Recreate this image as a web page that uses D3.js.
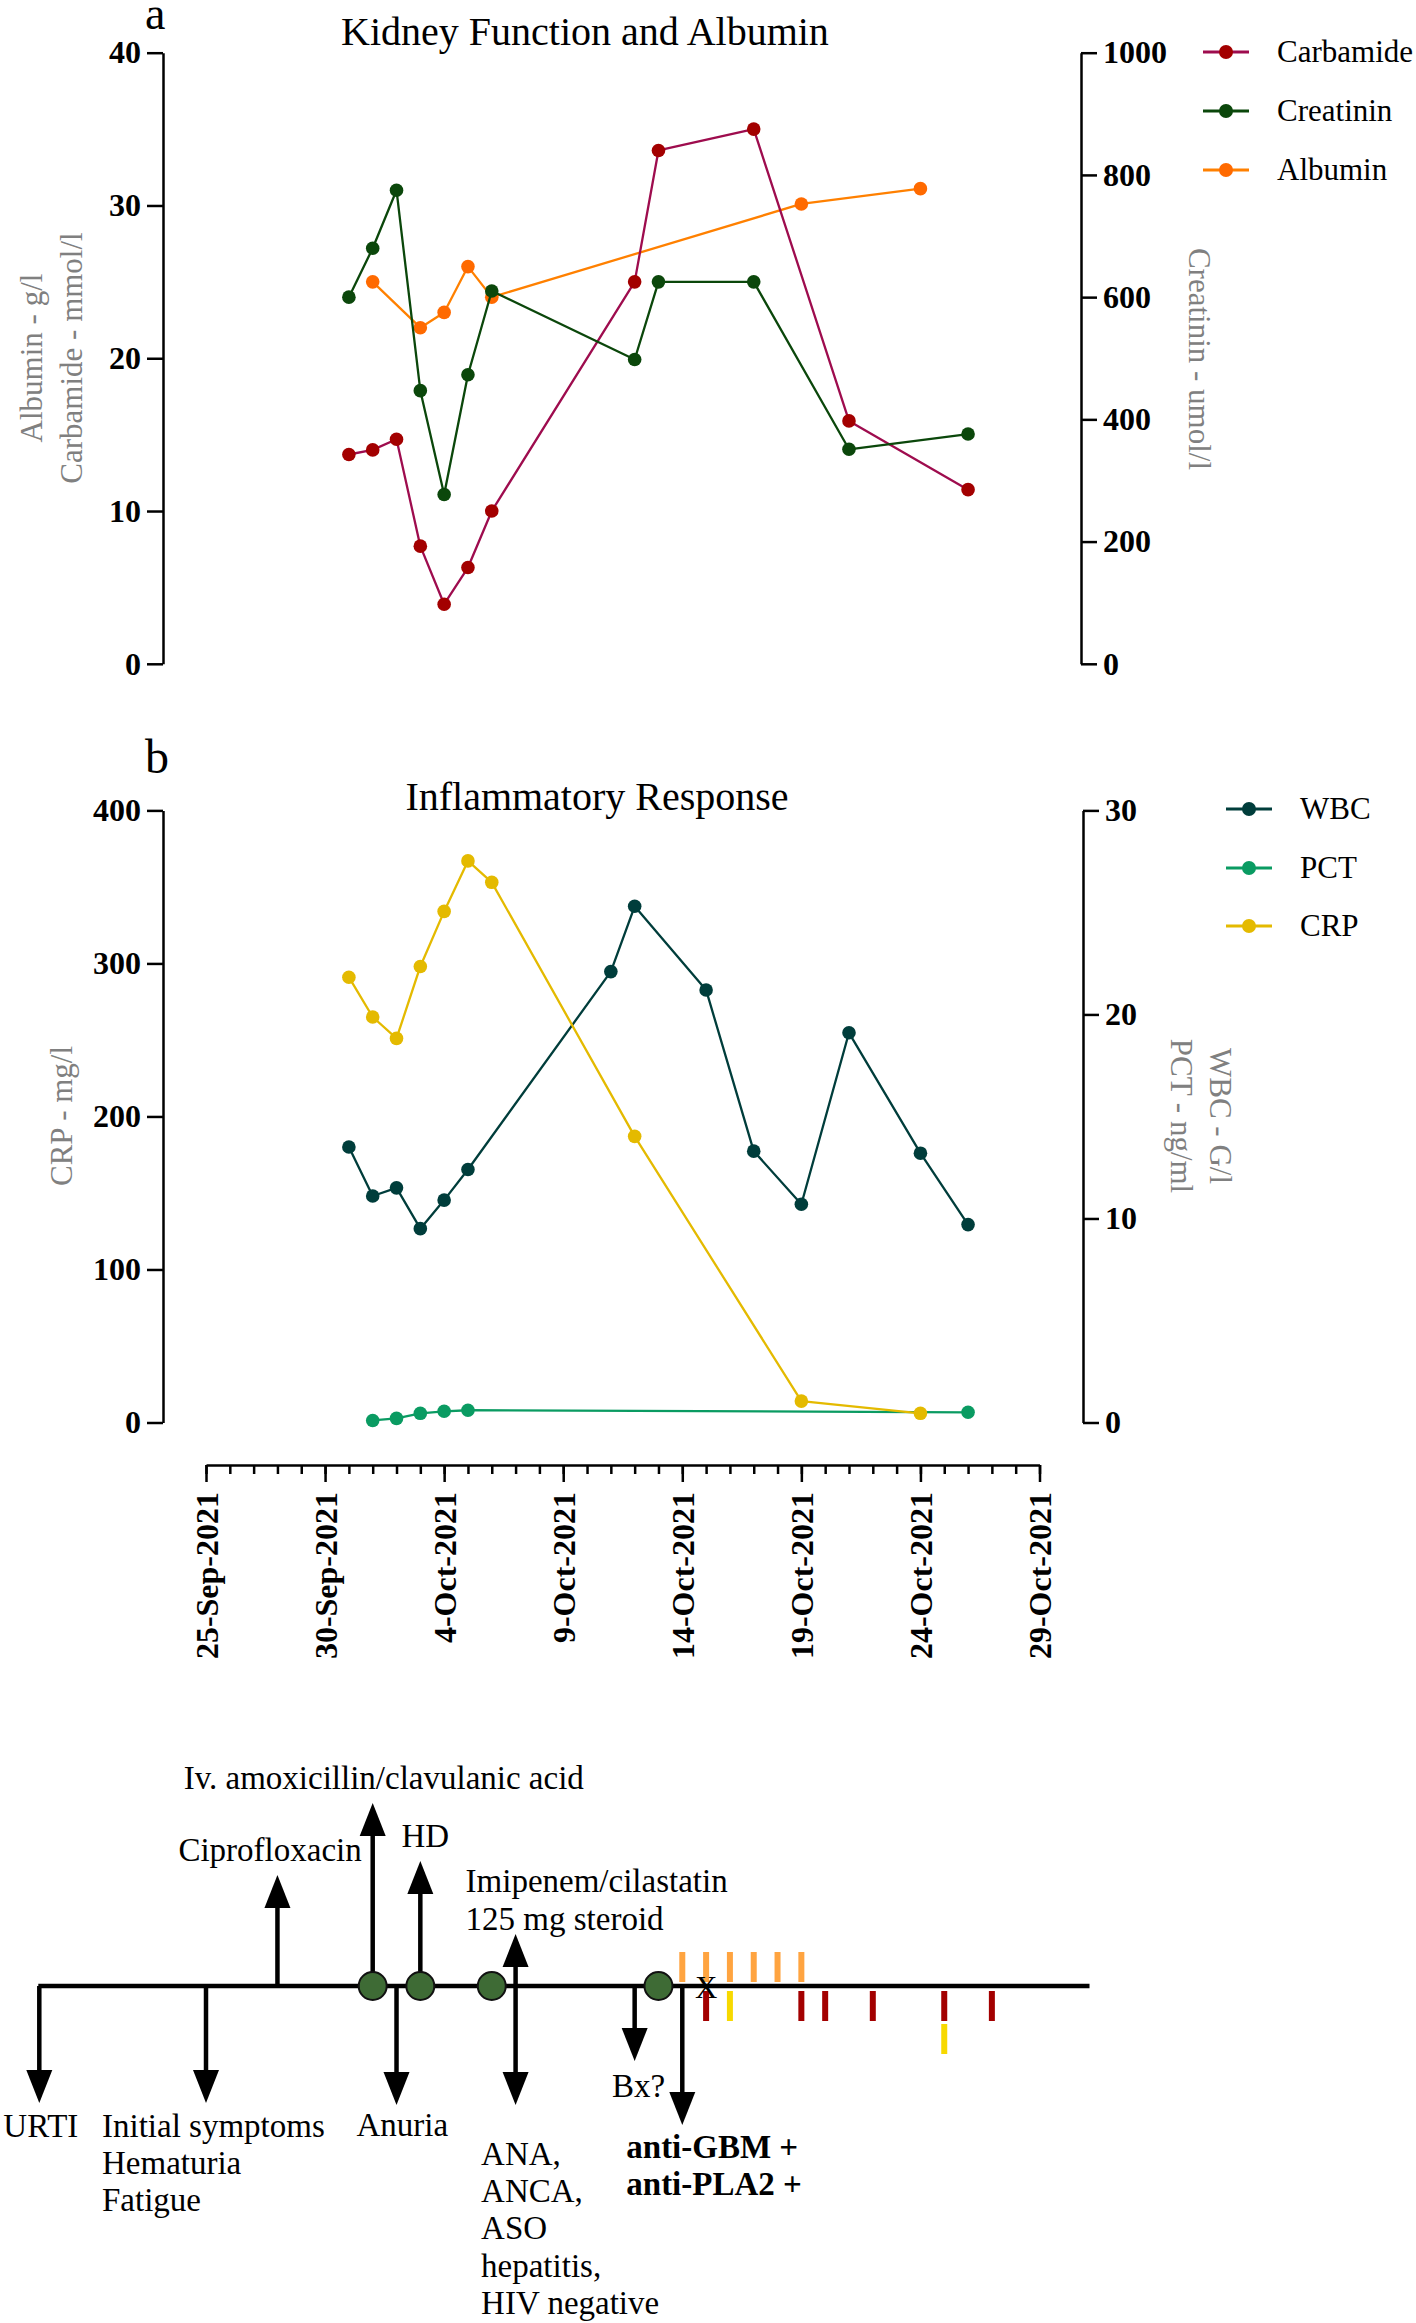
<!DOCTYPE html>
<html><head><meta charset="utf-8">
<script src="https://cdn.jsdelivr.net/npm/d3@7"></script>
<style>
html,body{margin:0;padding:0;background:#fff;}
svg{display:block;}
text{font-family:"Liberation Serif","Times New Roman",Times,serif;}
</style></head><body>
<svg id="chart" width="1416" height="2323"></svg>
<script>
// ---------------- DATA ----------------
const dateTickDays = [0,5,10,15,20,25,30,35];
const dateTickLabels = ["25-Sep-2021","30-Sep-2021","4-Oct-2021","9-Oct-2021","14-Oct-2021","19-Oct-2021","24-Oct-2021","29-Oct-2021"];

const carbamideDays = [6,7,8,9,10,11,12,18,19,23,27,32];
const carbamideValues = [13.7,14.0,14.7,7.7,3.9,6.3,10.0,25.0,33.6,35.0,15.9,11.4];
const creatininDays = [6,7,8,9,10,11,12,18,19,23,27,32];
const creatininValues = [600,680,775,447,277,473,610,498,625,625,351,376];
const albuminDays = [7,9,10,11,12,25,30];
const albuminValues = [25,22,23,26,24,30.1,31.1];

const wbcDays = [6,7,8,9,10,11,17,18,21,23,25,27,30,32];
const wbcValues = [13.5,11.1,11.5,9.5,10.9,12.4,22.1,25.3,21.2,13.3,10.7,19.1,13.2,9.7];
const pctDays = [7,8,9,10,11,32];
const pctValues = [0.1,0.2,0.45,0.55,0.6,0.5];
const crpDays = [6,7,8,9,10,11,12,18,25,30];
const crpValues = [291,265,251,298,334,367,353,187,14,6];

const leftTicksA = [0,10,20,30,40];
const rightTicksA = [0,200,400,600,800,1000];
const leftTicksB = [0,100,200,300,400];
const rightTicksB = [0,10,20,30];

const legendA = ["Carbamide","Creatinin","Albumin"];
const legendB = ["WBC","PCT","CRP"];

// timeline events
const eventKeys = ["urti","initial","cipro","amox","anuria","hd","imipenem","ana","bx","gbm"];
const eventDays = [-7,0,3,7,8,9,13,13,18,20];
const eventDirs = ["down","down","up","up","down","up","up","down","down","down"];
const eventTexts = [
  ["URTI"],
  ["Initial symptoms","Hematuria","Fatigue"],
  ["Ciprofloxacin"],
  ["Iv. amoxicillin/clavulanic acid"],
  ["Anuria"],
  ["HD"],
  ["Imipenem/cilastatin","125 mg steroid"],
  ["ANA,","ANCA,","ASO","hepatitis,","HIV negative"],
  ["Bx?"],
  ["anti-GBM +","anti-PLA2 +"]
];
const hdDays = [7,9,12,19];
const orangeDays = [20,21,22,23,24,25];
const darkRedDays = [21,25,26,28,31,33];
const yellowDays = [22,31];
const xMarkDay = 21;

// ---------------- LAYOUT / STYLE ----------------
const svg = d3.select("#chart");
const FONT = '"Liberation Serif","Times New Roman",Times,serif';
const x = d3.scaleLinear().domain([0,35]).range([206,1039.5]);

const col = {
  carbLine:"#9e0c4e", carbDot:"#a30000",
  creat:"#0b470b",
  albLine:"#ff8000", albDot:"#ff6a00",
  wbc:"#003d3b", pct:"#0a9b62", crp:"#e4ba00",
  gray:"#808080"
};

const yA_L = d3.scaleLinear().domain([0,40]).range([663.8,52.7]);
const yA_R = d3.scaleLinear().domain([0,1000]).range([663.8,52.7]);
const yB_L = d3.scaleLinear().domain([0,400]).range([1422.5,810.4]);
const yB_R = d3.scaleLinear().domain([0,30]).range([1422.5,810.4]);

function styleAxis(g){
  g.attr("font-family",FONT).attr("font-size",32).attr("font-weight","bold");
  g.selectAll("path,line").attr("stroke","#000").attr("stroke-width",2.5);
  g.selectAll("text").attr("fill","#000");
}
function leftAxis(scale, ticks, xPos){
  const g = svg.append("g").attr("transform",`translate(${xPos},0)`)
    .call(d3.axisLeft(scale).tickValues(ticks).tickSize(16).tickSizeOuter(0).tickPadding(6).tickFormat(d3.format("d")));
  styleAxis(g);
}
function rightAxis(scale, ticks, xPos){
  const g = svg.append("g").attr("transform",`translate(${xPos},0)`)
    .call(d3.axisRight(scale).tickValues(ticks).tickSize(16).tickSizeOuter(0).tickPadding(6).tickFormat(d3.format("d")));
  styleAxis(g);
}
function series(days, values, yScale, lineColor, dotColor){
  const pts = days.map((d,i)=>[d,values[i]]);
  const g = svg.append("g");
  g.append("path").datum(pts)
    .attr("d", d3.line().x(p=>x(p[0])).y(p=>yScale(p[1])))
    .attr("fill","none").attr("stroke",lineColor).attr("stroke-width",2.3).attr("stroke-linejoin","round");
  g.selectAll("circle").data(pts).join("circle")
    .attr("cx",p=>x(p[0])).attr("cy",p=>yScale(p[1])).attr("r",6.8).attr("fill",dotColor);
}
function text(xp, yp, s, opts={}){
  const t = svg.append("text").attr("x",xp).attr("y",yp).text(s)
    .attr("font-family",FONT).attr("font-size",opts.size||33)
    .attr("fill",opts.fill||"#000")
    .attr("text-anchor",opts.anchor||"start");
  if(opts.weight) t.attr("font-weight",opts.weight);
  if(opts.baseline) t.attr("dominant-baseline",opts.baseline);
  if(opts.rotate!==undefined) t.attr("transform",`rotate(${opts.rotate},${xp},${yp})`);
  return t;
}
function legend(names, colorsLine, colorsDot, rowsY, lx1, lx2, mx, tx){
  names.forEach((n,i)=>{
    svg.append("line").attr("x1",lx1).attr("x2",lx2).attr("y1",rowsY[i]).attr("y2",rowsY[i])
      .attr("stroke",colorsLine[i]).attr("stroke-width",2.8);
    svg.append("circle").attr("cx",mx).attr("cy",rowsY[i]).attr("r",7).attr("fill",colorsDot[i]);
    text(tx, rowsY[i]+10, n, {size:31});
  });
}

// ---------------- PANEL A ----------------
text(145,29,"a",{size:46});
text(585,44.6,"Kidney Function and Albumin",{size:40,anchor:"middle"});
leftAxis(yA_L, leftTicksA, 163);
rightAxis(yA_R, rightTicksA, 1081);
text(31,358,"Albumin - g/l",{size:31,fill:col.gray,anchor:"middle",baseline:"central",rotate:-90});
text(71,358,"Carbamide - mmol/l",{size:31,fill:col.gray,anchor:"middle",baseline:"central",rotate:-90});
text(1199,359,"Creatinin - umol/l",{size:31,fill:col.gray,anchor:"middle",baseline:"central",rotate:90});
series(albuminDays, albuminValues, yA_L, col.albLine, col.albDot);
series(carbamideDays, carbamideValues, yA_L, col.carbLine, col.carbDot);
series(creatininDays, creatininValues, yA_R, col.creat, col.creat);
legend(legendA,[col.carbLine,col.creat,col.albLine],[col.carbDot,col.creat,col.albDot],[52,111,170],1203,1249,1226,1277);

// ---------------- PANEL B ----------------
text(145,773,"b",{size:48});
text(597,809.5,"Inflammatory Response",{size:40,anchor:"middle"});
leftAxis(yB_L, leftTicksB, 163);
rightAxis(yB_R, rightTicksB, 1083);
text(61,1116,"CRP - mg/l",{size:31,fill:col.gray,anchor:"middle",baseline:"central",rotate:-90});
text(1220,1116,"WBC - G/l",{size:31,fill:col.gray,anchor:"middle",baseline:"central",rotate:90});
text(1181,1116,"PCT - ng/ml",{size:31,fill:col.gray,anchor:"middle",baseline:"central",rotate:90});
series(pctDays, pctValues, yB_R, col.pct, col.pct);
series(wbcDays, wbcValues, yB_R, col.wbc, col.wbc);
series(crpDays, crpValues, yB_L, col.crp, col.crp);
legend(legendB,[col.wbc,col.pct,col.crp],[col.wbc,col.pct,col.crp],[809,868,926],1226,1272,1249,1300);

// ---------------- DATE AXIS ----------------
const axisY = 1465;
const minor = svg.append("g").attr("transform",`translate(0,${axisY})`)
  .call(d3.axisBottom(x).tickValues(d3.range(0,36)).tickSize(9).tickSizeOuter(0).tickFormat(""));
styleAxis(minor);
const major = svg.append("g").attr("transform",`translate(0,${axisY})`)
  .call(d3.axisBottom(x).tickValues(dateTickDays).tickSize(17).tickSizeOuter(0)
    .tickFormat((d,i)=>dateTickLabels[i]));
styleAxis(major);
major.select(".domain").remove();
major.selectAll("text")
  .attr("transform","rotate(-90)")
  .attr("x",-27).attr("y",0).attr("dy","0.35em")
  .attr("text-anchor","end");

// ---------------- TIMELINE ----------------
const tlY = 1986;
const LW = 4.5, headW = 26, headL = 33;
const arrowLen = {urti:117, initial:117, cipro:111, amox:183, anuria:119, hd:125, imipenem:52, ana:119, bx:75, gbm:139};
const labelPos = {
  urti:{dx:-36, y:2137, anchor:"start", lh:37},
  initial:{dx:-104, y:2137, anchor:"start", lh:37},
  cipro:{dx:-99, y:1861, anchor:"start", lh:37},
  amox:{dx:-189, y:1789, anchor:"start", lh:37},
  anuria:{dx:-40, y:2136, anchor:"start", lh:37},
  hd:{dx:5, y:1847, anchor:"middle", lh:37},
  imipenem:{dx:-50, y:1892, anchor:"start", lh:38},
  ana:{dx:-34.5, y:2165, anchor:"start", lh:37.2},
  bx:{dx:-22.6, y:2097, anchor:"start", lh:37},
  gbm:{dx:-56, y:2158, anchor:"start", lh:37, weight:"bold"}
};

const tl = svg.append("g");
tl.append("line").attr("x1",x(-7)-1).attr("x2",x(37.1)).attr("y1",tlY).attr("y2",tlY)
  .attr("stroke","#000").attr("stroke-width",LW);

eventKeys.forEach((k,i)=>{
  const xe = x(eventDays[i]);
  const s = eventDirs[i]==="up" ? -1 : 1;
  const tip = tlY + s*arrowLen[k];
  const base = tip - s*headL;
  tl.append("line").attr("x1",xe).attr("x2",xe).attr("y1",tlY).attr("y2",base)
    .attr("stroke","#000").attr("stroke-width",LW);
  tl.append("path").attr("d",`M${xe-headW/2},${base}L${xe+headW/2},${base}L${xe},${tip}Z`).attr("fill","#000");
  const lp = labelPos[k];
  eventTexts[i].forEach((line,j)=>{
    text(xe+lp.dx, lp.y + j*lp.lh, line, {size:33, anchor:lp.anchor, weight:lp.weight});
  });
});

// treatment bars
const barW = 6, barH = 30;
tl.selectAll("rect.or").data(orangeDays).join("rect").attr("class","or")
  .attr("x",d=>x(d)-barW/2).attr("y",tlY-4-barH).attr("width",barW).attr("height",barH).attr("fill","#ffa440");
tl.selectAll("rect.dr").data(darkRedDays).join("rect").attr("class","dr")
  .attr("x",d=>x(d)-barW/2).attr("y",tlY+5).attr("width",barW).attr("height",barH).attr("fill","#a30000");
tl.selectAll("rect.ye").data(yellowDays).join("rect").attr("class","ye")
  .attr("x",d=>x(d)-barW/2)
  .attr("y",d=>tlY+5+(darkRedDays.includes(d)?barH+3:0))
  .attr("width",barW).attr("height",barH).attr("fill","#f7d900");

// HD circles
tl.selectAll("circle").data(hdDays).join("circle")
  .attr("cx",d=>x(d)).attr("cy",tlY).attr("r",14)
  .attr("fill","#3e6b35").attr("stroke","#111").attr("stroke-width",2);

// X mark
text(x(xMarkDay), tlY+1, "X", {size:31, anchor:"middle", baseline:"central"});
</script>
</body></html>
